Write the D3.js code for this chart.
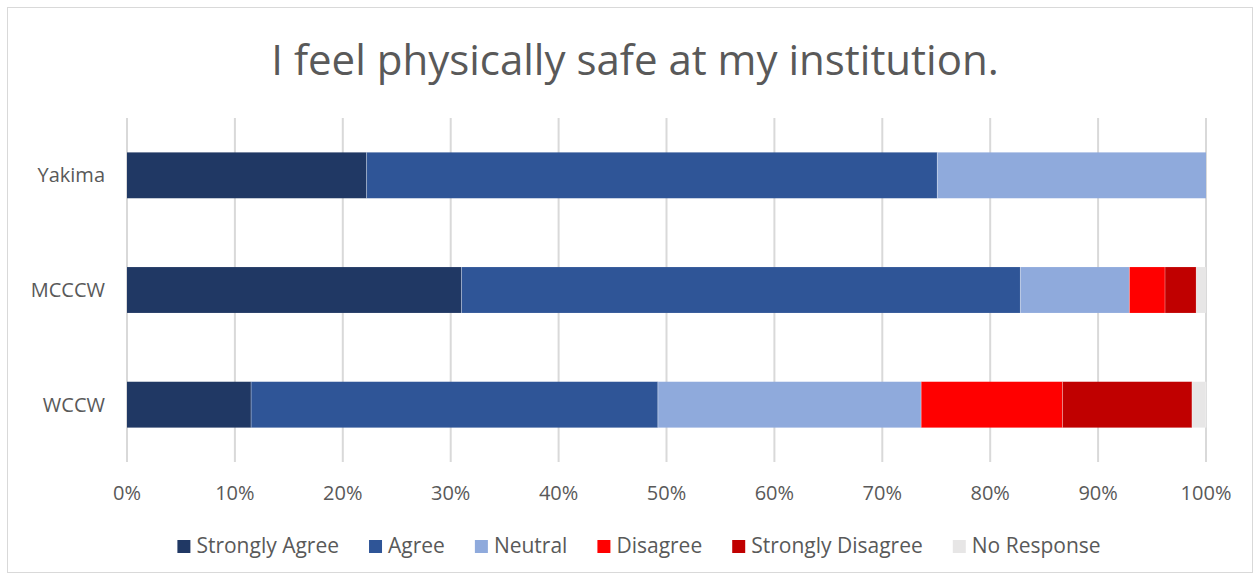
<!DOCTYPE html>
<html>
<head>
<meta charset="utf-8">
<script src="https://cdn.jsdelivr.net/npm/d3@7"></script>
<style>
  body { margin: 0; background: #fff; }
  text { font-family: "Open Sans", "Noto Sans", sans-serif; fill: #595959; }
</style>
</head>
<body>
<script>
var categories = ["Yakima", "MCCCW", "WCCW"];
var seriesNames = ["Strongly Agree", "Agree", "Neutral", "Disagree", "Strongly Disagree", "No Response"];
var colors = ["#203864", "#2f5597", "#8faadc", "#ff0000", "#c00000", "#e7e6e6"];
var stronglyAgree = [22.2, 31.0, 11.5];
var agree = [52.9, 51.8, 37.7];
var neutral = [24.9, 10.1, 24.4];
var disagree = [0, 3.3, 13.1];
var stronglyDisagree = [0, 2.9, 12.0];
var noResponse = [0, 0.9, 1.3];
var tickValues = [0, 10, 20, 30, 40, 50, 60, 70, 80, 90, 100];

var W = 1260, H = 580;
var svg = d3.select("body").append("svg").attr("width", W).attr("height", H);

svg.append("rect")
    .attr("x", 7.5).attr("y", 7.5)
    .attr("width", W - 15).attr("height", H - 15)
    .attr("fill", "#fff").attr("stroke", "#d9d9d9");

var margin = {left: 127, right: 54, top: 118, bottom: 118};
var x = d3.scaleLinear().domain([0, 100]).range([margin.left, W - margin.right]);
var y = d3.scaleBand().domain(categories).range([margin.top, H - margin.bottom]).paddingInner(0.6).paddingOuter(0.3);

var rows = categories.map(function (c, i) {
    return {cat: c, "Strongly Agree": stronglyAgree[i], "Agree": agree[i], "Neutral": neutral[i],
        "Disagree": disagree[i], "Strongly Disagree": stronglyDisagree[i], "No Response": noResponse[i]};
});
var stacked = d3.stack().keys(seriesNames)(rows);

// title
svg.append("text")
    .attr("x", 635).attr("y", 75)
    .attr("text-anchor", "middle")
    .style("font-size", "42px")
    .text("I feel physically safe at my institution.");

// gridlines
svg.append("g").selectAll("line")
    .data(tickValues)
    .enter().append("line")
    .attr("x1", function (d) { return x(d); })
    .attr("x2", function (d) { return x(d); })
    .attr("y1", margin.top)
    .attr("y2", H - margin.bottom)
    .attr("stroke", "#d9d9d9")
    .attr("stroke-width", 2);

// bars
svg.append("g").selectAll("g")
    .data(stacked)
    .enter().append("g")
    .attr("fill", function (d, i) { return colors[i]; })
    .selectAll("rect")
    .data(function (d) { return d; })
    .enter().append("rect")
    .attr("x", function (d) { return x(d[0]); })
    .attr("width", function (d) { return x(d[1]) - x(d[0]); })
    .attr("y", function (d) { return y(d.data.cat); })
    .attr("height", y.bandwidth());

// thin white separators like Excel
svg.append("g").selectAll("g")
    .data(stacked)
    .enter().append("g")
    .selectAll("line")
    .data(function (d) { return d.filter(function (p) { return p[1] - p[0] > 0 && p[1] < 100; }); })
    .enter().append("line")
    .attr("x1", function (d) { return x(d[1]); })
    .attr("x2", function (d) { return x(d[1]); })
    .attr("y1", function (d) { return y(d.data.cat); })
    .attr("y2", function (d) { return y(d.data.cat) + y.bandwidth(); })
    .attr("stroke", "#fff").attr("stroke-opacity", 0.35).attr("stroke-width", 1);

// y labels
svg.append("g").selectAll("text")
    .data(categories)
    .enter().append("text")
    .attr("x", margin.left - 22)
    .attr("y", function (d) { return y(d) + y.bandwidth() / 2; })
    .attr("dy", "0.35em")
    .attr("text-anchor", "end")
    .style("font-size", "20px")
    .text(function (d) { return d; });

// x labels
svg.append("g").selectAll("text")
    .data(tickValues)
    .enter().append("text")
    .attr("x", function (d) { return x(d); })
    .attr("y", 500)
    .attr("text-anchor", "middle")
    .style("font-size", "20px")
    .text(function (d) { return d + "%"; });

// legend
var legend = svg.append("g");
var items = legend.selectAll("g")
    .data(seriesNames)
    .enter().append("g");
items.append("rect")
    .attr("width", 13).attr("height", 13)
    .attr("y", -13)
    .attr("fill", function (d, i) { return colors[i]; });
items.append("text")
    .attr("x", 19)
    .style("font-size", "21px")
    .text(function (d) { return d; });
var pos = 0;
items.each(function () {
    var w = this.getBBox().width;
    d3.select(this).attr("data-x", pos);
    pos += w + 30;
});
var total = pos - 30;
var start = 639 - total / 2;
items.attr("transform", function () {
    return "translate(" + (start + (+d3.select(this).attr("data-x"))) + ",553)";
});
</script>
</body>
</html>
